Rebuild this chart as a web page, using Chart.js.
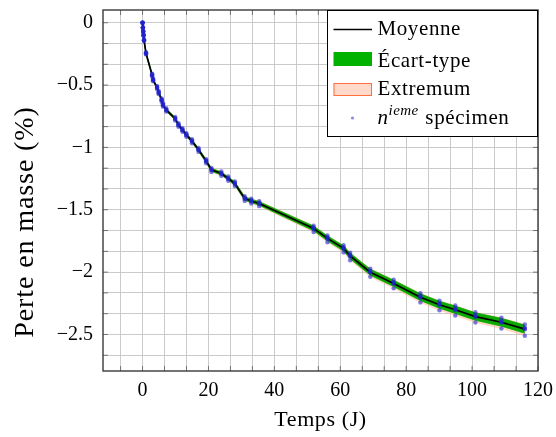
<!DOCTYPE html>
<html>
<head>
<meta charset="utf-8">
<script src="https://cdn.jsdelivr.net/npm/chart.js@4/dist/chart.umd.min.js"></script>
<style>
  body { margin: 0; background: #fff; }
  #wrap { width: 556px; height: 437px; }
</style>
</head>
<body>
<div id="wrap"><canvas id="mass_loss_chart" width="556" height="437"></canvas></div>
<script>
// temps de mesure (jours)
var times = [0, 0.1, 0.2, 0.3, 0.45, 1.05, 2.9, 3.2, 4.4, 4.9, 5.8, 6.2, 7.2, 9.9, 10.9, 12.1, 13.3, 15.0, 17.0, 19.3,
             20.9, 23.9, 26.0, 28.0, 31.0, 33.0, 35.4, 51.9, 56.1, 61.0, 63.0, 69.1, 76.2, 84.3, 90.1, 94.9, 101.0, 108.9, 116.0];

// perte en masse (%) de chaque specimen
var spec1 = [0, -0.036, -0.066, -0.096, -0.134, -0.236, -0.408, -0.447, -0.508, -0.547, -0.607, -0.646, -0.686, -0.756, -0.805, -0.845, -0.885, -0.935, -1.005, -1.094,
             -1.164, -1.193, -1.233, -1.272, -1.392, -1.411, -1.431, -1.627, -1.706, -1.785, -1.844, -1.972, -2.061, -2.170, -2.229, -2.268, -2.322, -2.366, -2.420];
var spec2 = [0, -0.040, -0.071, -0.101, -0.141, -0.247, -0.421, -0.461, -0.522, -0.562, -0.622, -0.662, -0.702, -0.772, -0.822, -0.862, -0.902, -0.952, -1.022, -1.112,
             -1.182, -1.212, -1.252, -1.292, -1.412, -1.432, -1.452, -1.652, -1.732, -1.812, -1.872, -2.002, -2.092, -2.203, -2.263, -2.303, -2.358, -2.403, -2.458];
var spec3 = [0, -0.038, -0.069, -0.099, -0.138, -0.242, -0.415, -0.455, -0.516, -0.556, -0.615, -0.655, -0.695, -0.765, -0.815, -0.854, -0.894, -0.944, -1.014, -1.104,
             -1.174, -1.204, -1.244, -1.283, -1.403, -1.423, -1.443, -1.641, -1.720, -1.800, -1.860, -1.990, -2.080, -2.190, -2.250, -2.290, -2.345, -2.390, -2.445];
var spec4 = [0, -0.043, -0.074, -0.105, -0.146, -0.254, -0.431, -0.470, -0.532, -0.573, -0.634, -0.673, -0.713, -0.784, -0.834, -0.874, -0.915, -0.966, -1.036, -1.127,
             -1.197, -1.228, -1.268, -1.309, -1.429, -1.450, -1.471, -1.678, -1.760, -1.842, -1.905, -2.038, -2.130, -2.243, -2.306, -2.348, -2.404, -2.452, -2.510];
var spec5 = [0, -0.041, -0.070, -0.100, -0.140, -0.246, -0.420, -0.459, -0.521, -0.561, -0.621, -0.660, -0.700, -0.771, -0.820, -0.860, -0.900, -0.950, -1.020, -1.110,
             -1.180, -1.210, -1.250, -1.290, -1.410, -1.430, -1.450, -1.650, -1.730, -1.810, -1.870, -2.000, -2.090, -2.200, -2.260, -2.300, -2.355, -2.400, -2.455];

var xTickValues = [0, 20, 40, 60, 80, 100, 120];
var yTickValues = [0, -0.5, -1, -1.5, -2, -2.5];
var legendLabels = ["Moyenne", "\u00c9cart-type", "Extremum", "sp\u00e9cimen"];
var xTitle = "Temps (J)";
var yTitle = "Perte en masse (%)";

var FONT = "'Liberation Serif', 'Times New Roman', serif";
var specimens = [spec1, spec2, spec3, spec4, spec5];

// stats par temps
var mean = [], std = [], vmin = [], vmax = [];
times.forEach(function (t, i) {
    var v = specimens.map(function (s) { return s[i]; });
    var m = v.reduce(function (a, b) { return a + b; }, 0) / v.length;
    var s2 = v.reduce(function (a, b) { return a + (b - m) * (b - m); }, 0) / (v.length - 1);
    mean.push({x: t, y: m});
    std.push(Math.sqrt(s2));
    vmin.push({x: t, y: Math.min.apply(null, v)});
    vmax.push({x: t, y: Math.max.apply(null, v)});
});
var stdHigh = mean.map(function (p, i) { return {x: p.x, y: p.y + std[i]}; });
var stdLow = mean.map(function (p, i) { return {x: p.x, y: p.y - std[i]}; });

function subTicks(major, n) {
    // grille mineure : n-1 traits entre chaque graduation
    var step = Math.abs(major[1] - major[0]) / n, out = [];
    var lo = Math.min.apply(null, major), hi = Math.max.apply(null, major);
    for (var k = -n; k <= (hi - lo) / step + n; k++) {
        out.push(lo + k * step);
    }
    return out;
}
function isMajor(v, major) {
    return major.some(function (m) { return Math.abs(m - v) < 1e-6; });
}
function fmt(v) {
    var s = String(Math.round(v * 100) / 100);
    return s.charAt(0) === '-' ? '\u2212' + s.slice(1) : s;
}
// texte avec un peu d'interlettrage pour imiter la largeur de la police LaTeX
function spacedText(ctx, text, x, y, font, spacing, rot, align) {
    ctx.save();
    ctx.translate(x, y);
    if (rot) ctx.rotate(rot);
    ctx.font = font;
    ctx.letterSpacing = spacing + 'px';
    ctx.textAlign = align || 'left';
    ctx.fillText(text, 0, 0);
    var w = ctx.measureText(text).width;
    ctx.restore();
    return w;
}

var datasets = [
    {label: "Extremum", data: vmax, fill: '+1', backgroundColor: 'rgba(255,185,150,0.5)', borderColor: 'rgba(255,130,80,0.35)', borderWidth: 0.6, pointRadius: 0, order: 4},
    {label: "Extremum min", data: vmin, fill: false, borderColor: 'rgba(255,130,80,0.35)', borderWidth: 0.6, pointRadius: 0, order: 4},
    {label: "\u00c9cart-type", data: stdHigh, fill: '+1', backgroundColor: 'rgb(10,170,0)', borderColor: 'rgb(10,170,0)', borderWidth: 0.8, pointRadius: 0, order: 3},
    {label: "\u00c9cart-type bas", data: stdLow, fill: false, borderColor: 'rgb(10,170,0)', borderWidth: 0.8, pointRadius: 0, order: 3},
    {label: "Moyenne", data: mean, borderColor: '#000', borderWidth: 1.7, pointRadius: 0, fill: false, order: 2}
];
specimens.forEach(function (s, k) {
    datasets.push({
        label: "specimen " + (k + 1),
        data: s.map(function (y, i) { return {x: times[i], y: y}; }),
        showLine: false,
        pointRadius: 2.2,
        pointBorderWidth: 0,
        pointBackgroundColor: 'rgba(35,35,205,0.6)',
        order: 1
    });
});

var frameAndLegend = {
    id: 'frameAndLegend',
    afterDraw: function (chart) {
        var ctx = chart.ctx, a = chart.chartArea;
        var xs = chart.scales.x, ys = chart.scales.y;
        ctx.save();
        // petits traits de graduation sur les 4 cotes
        ctx.strokeStyle = 'rgba(80,80,80,0.9)';
        ctx.lineWidth = 0.8;
        ctx.beginPath();
        xs.ticks.forEach(function (t) {
            var px = xs.getPixelForValue(t.value);
            ctx.moveTo(px, a.bottom); ctx.lineTo(px, a.bottom - 5);
            ctx.moveTo(px, a.top); ctx.lineTo(px, a.top + 5);
        });
        ys.ticks.forEach(function (t) {
            var py = ys.getPixelForValue(t.value);
            ctx.moveTo(a.left, py); ctx.lineTo(a.left + 5, py);
            ctx.moveTo(a.right, py); ctx.lineTo(a.right - 5, py);
        });
        ctx.stroke();
        // cadre
        ctx.strokeStyle = '#3a3a3a';
        ctx.lineWidth = 1.4;
        ctx.strokeRect(a.left, a.top, a.right - a.left, a.bottom - a.top);

        // titres des axes
        ctx.fillStyle = '#000';
        ctx.textBaseline = 'middle';
        spacedText(ctx, xTitle, (a.left + a.right) / 2, 420, '22px ' + FONT, 0.6, 0, 'center');
        spacedText(ctx, yTitle, 26, 222, '28px ' + FONT, 0.9, -Math.PI / 2, 'center');

        // legende
        var bx = a.right - 211, by = a.top, bw = 211, bh = 127;
        ctx.fillStyle = '#fff';
        ctx.fillRect(bx, by, bw, bh);
        ctx.strokeStyle = '#000';
        ctx.lineWidth = 1;
        ctx.strokeRect(bx + 0.5, by + 0.5, bw - 1, bh - 1);

        var sx = bx + 6.5, sw = 38.5, tx = bx + 50.5;
        ctx.beginPath();
        ctx.moveTo(sx, by + 19.5); ctx.lineTo(sx + sw, by + 19.5);
        ctx.strokeStyle = '#000'; ctx.lineWidth = 1.5; ctx.stroke();

        ctx.fillStyle = 'rgb(0,178,0)';
        ctx.fillRect(sx, by + 42, sw, 14);

        ctx.fillStyle = 'rgb(255,218,202)';
        ctx.fillRect(sx, by + 73, sw, 13);
        ctx.strokeStyle = 'rgb(255,110,60)'; ctx.lineWidth = 1;
        ctx.strokeRect(sx + 0.5, by + 73.5, sw - 1, 12);

        ctx.fillStyle = 'rgba(60,60,220,0.6)';
        ctx.beginPath(); ctx.arc(sx + 19, by + 108, 1.6, 0, 2 * Math.PI); ctx.fill();

        ctx.fillStyle = '#000';
        ctx.textBaseline = 'alphabetic';
        var f = '21px ' + FONT, sp = 0.6;
        spacedText(ctx, legendLabels[0], tx, by + 25, f, sp);
        spacedText(ctx, legendLabels[1], tx, by + 56.5, f, sp);
        spacedText(ctx, legendLabels[2], tx, by + 85, f, sp);
        var nw = spacedText(ctx, 'n', tx, by + 114, 'italic 21px ' + FONT, sp);
        var iw = spacedText(ctx, 'ieme', tx + nw, by + 105, 'italic 15px ' + FONT, 0.4);
        spacedText(ctx, ' ' + legendLabels[3], tx + nw + iw + 1, by + 114, f, sp);
        ctx.restore();
    }
};

var ctx = document.getElementById('mass_loss_chart');
var myChart = new Chart(ctx, {
    type: 'line',
    data: {datasets: datasets},
    plugins: [frameAndLegend],
    options: {
        responsive: false,
        animation: false,
        layout: {padding: {top: 10, right: 18, bottom: 0, left: 0}},
        elements: {line: {tension: 0}},
        plugins: {legend: {display: false}, tooltip: {enabled: false}},
        scales: {
            x: {
                type: 'linear',
                min: -12,
                max: 120,
                afterBuildTicks: function (scale) {
                    scale.ticks = subTicks(xTickValues, 3)
                        .filter(function (v) { return v >= scale.min - 1e-6 && v <= scale.max + 1e-6; })
                        .map(function (v) { return {value: v}; });
                },
                afterFit: function (scale) {
                    scale.height = 66;
                    scale.paddingLeft = 0; scale.paddingRight = 0;
                    scale.paddingTop = 0; scale.paddingBottom = 0;
                },
                grid: {color: '#c4c4c4', lineWidth: 0.9, drawTicks: false},
                border: {display: false},
                ticks: {
                    autoSkip: false,
                    maxRotation: 0,
                    padding: 8,
                    color: '#000',
                    font: {family: FONT, size: 20},
                    callback: function (v) { return isMajor(v, xTickValues) ? fmt(v) : ''; }
                },
                title: {display: false, text: xTitle}
            },
            y: {
                min: -2.793,
                max: 0.102,
                afterBuildTicks: function (scale) {
                    scale.ticks = subTicks(yTickValues.slice().reverse(), 3)
                        .filter(function (v) { return v >= scale.min - 1e-6 && v <= scale.max + 1e-6; })
                        .map(function (v) { return {value: v}; });
                },
                afterFit: function (scale) {
                    scale.width = 103;
                    scale.paddingLeft = 0; scale.paddingRight = 0;
                    scale.paddingTop = 0; scale.paddingBottom = 0;
                },
                grid: {color: '#c4c4c4', lineWidth: 0.9, drawTicks: false},
                border: {display: false},
                ticks: {
                    autoSkip: false,
                    padding: 10,
                    color: '#000',
                    font: {family: FONT, size: 20},
                    callback: function (v) { return isMajor(v, yTickValues) ? fmt(v) : ''; }
                },
                title: {display: false, text: yTitle}
            }
        }
    }
});
</script>
</body>
</html>
